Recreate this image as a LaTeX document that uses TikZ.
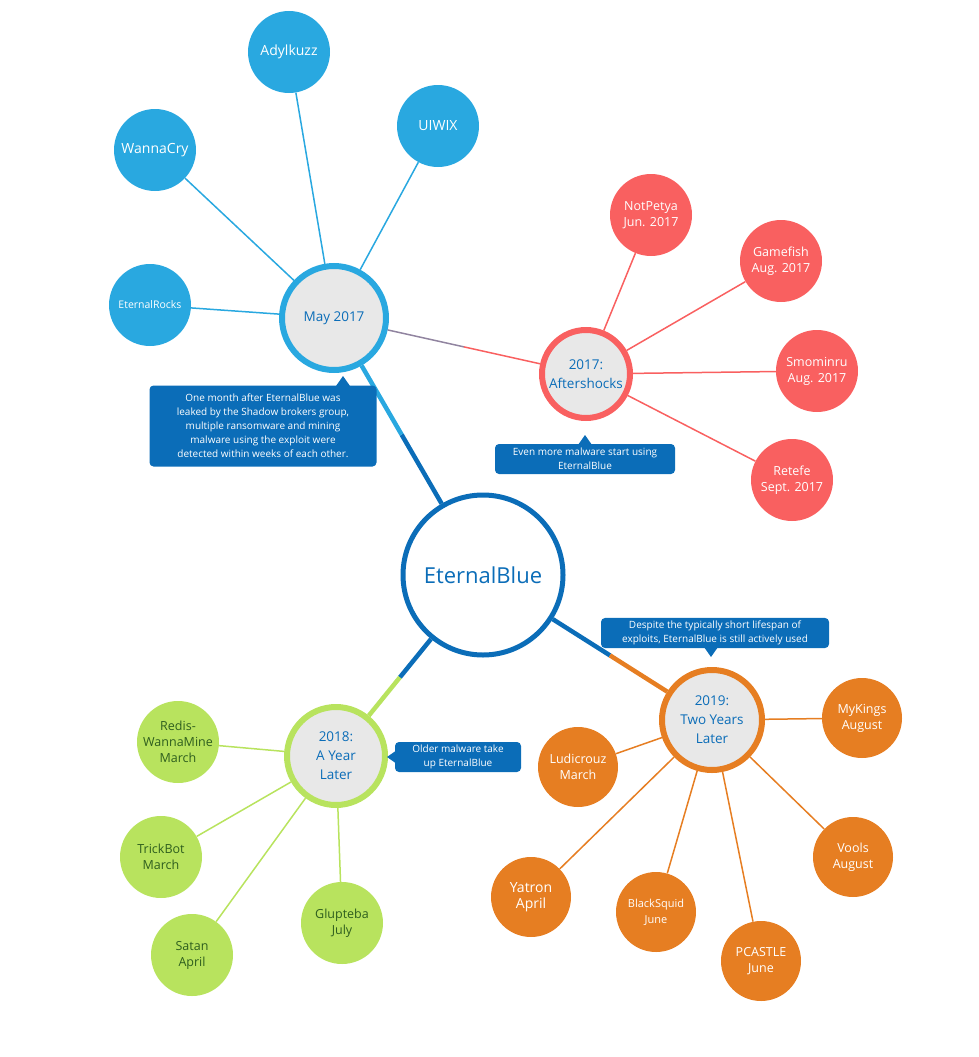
\documentclass[tikz,border=0pt]{standalone}
\usepackage{fontspec}
\setmainfont{Open Sans}
\begin{document}
\definecolor{cblue}{HTML}{29A8E0}
\definecolor{dblue}{HTML}{0B6DB8}
\definecolor{cred}{HTML}{F96060}
\definecolor{corange}{HTML}{E67E22}
\definecolor{cgreen}{HTML}{B8E35E}
\definecolor{tgreen}{HTML}{2E5E1E}
\definecolor{hubfill}{HTML}{E8E8E8}
\begin{tikzpicture}[x=1pt,y=-1pt,
  leaf/.style={circle,minimum size=#1,inner sep=0pt,align=center,font=\fontsize{12.5}{16}\selectfont,text=white},
  hub/.style={circle,fill=hubfill,line width=6pt,minimum size=#1,inner sep=0pt,align=center,font=\fontsize{13.5}{19}\selectfont},
  note/.style={fill=dblue,text=white,rounded corners=4pt,align=center,font=\fontsize{10}{14}\selectfont,inner xsep=6pt,inner ysep=3pt}]
\useasboundingbox (0,0) rectangle (978,1057);
% centre
\node[circle,draw=dblue,line width=5pt,fill=white,minimum size=160pt,text=dblue,font=\fontsize{22}{26}\selectfont] (eb) at (483,575) {EternalBlue};
% hubs
\node[hub=104pt,draw=cblue,text=dblue] (may) at (334,318) {May 2017};
\node[hub=88pt,draw=cred,text=dblue] (aft) at (586,374) {2017:\\Aftershocks};
\node[hub=100pt,draw=corange,text=dblue] (y19) at (712,720) {2019:\\Two Years\\Later};
\node[hub=98pt,draw=cgreen,text=dblue] (y18) at (336,756) {2018:\\A Year\\Later};
% hub connectors
\path (eb) -- coordinate[pos=0.5] (m1) (may);
\draw[dblue,line width=4.5pt] (eb) -- (m1);
\draw[cblue,line width=4.5pt] (m1) -- (may);
\path (eb) -- coordinate[pos=0.5] (m2) (y18);
\draw[dblue,line width=4.5pt] (eb) -- (m2);
\draw[cgreen,line width=4.5pt] (m2) -- (y18);
\path (eb) -- coordinate[pos=0.5] (m3) (y19);
\draw[dblue,line width=4.5pt] (eb) -- (m3);
\draw[corange,line width=4.5pt] (m3) -- (y19);
\path (may) -- coordinate[pos=0.5] (m4) (aft);
\draw[cblue!50!cred,line width=1.5pt] (may) -- (m4);
\draw[cred,line width=1.5pt] (m4) -- (aft);
% leaves May
\foreach \n/\x/\y/\t in {wc/155/150/WannaCry,ad/289/52/Adylkuzz,ui/438/126/UIWIX}{
  \node[leaf=82pt,fill=cblue,font=\fontsize{14}{16}\selectfont] (\n) at (\x,\y) {\t};
  \draw[cblue,line width=1.5pt] (may) -- (\n);}
\node[leaf=82pt,fill=cblue,font=\fontsize{10.5}{12}\selectfont] (er) at (150,305) {EternalRocks};
\draw[cblue,line width=1.5pt] (may) -- (er);
% leaves aftershocks
\foreach \n/\x/\y/\t in {np/651/215/{NotPetya\\Jun. 2017},gf/781/261/{Gamefish\\Aug. 2017},sm/817/371/{Smominru\\Aug. 2017},rt/792/480/{Retefe\\Sept. 2017}}{
  \node[leaf=82pt,fill=cred] (\n) at (\x,\y) {\t};
  \draw[cred,line width=1.5pt] (aft) -- (\n);}
% leaves 2019
\foreach \n/\x/\y/\f/\t in {mk/862/718/12.5/{MyKings\\August},lu/578/767/12.5/{Ludicrouz\\March},vo/853/857/12.5/{Vools\\August},ya/531/897/14/{Yatron\\April},bs/656/912/11/{BlackSquid\\June},pc/761/961/12.5/{PCASTLE\\June}}{
  \node[leaf=80pt,fill=corange,font=\fontsize{\f}{16}\selectfont] (\n) at (\x,\y) {\t};
  \draw[corange,line width=1.5pt] (y19) -- (\n);}
% leaves 2018
\foreach \n/\x/\y/\t in {rw/178/742/{Redis-\\WannaMine\\March},tb/161/857/{TrickBot\\March},sa/192/955/{Satan\\April},gl/342/923/{Glupteba\\July}}{
  \node[leaf=82pt,fill=cgreen,text=tgreen] (\n) at (\x,\y) {\t};
  \draw[cgreen,line width=1.5pt] (y18) -- (\n);}
% notes
\node[note,minimum width=227pt,minimum height=81pt] (n1) at (263,426) {One month after EternalBlue was\\leaked by the Shadow brokers group,\\multiple ransomware and mining\\malware using the exploit were\\detected within weeks of each other.};
\fill[dblue] (336,386) -- (343,376) -- (350,386) -- cycle;
\node[note,minimum width=180pt,minimum height=30pt] (n2) at (585,459) {Even more malware start using\\EternalBlue};
\fill[dblue] (578,445) -- (585,435) -- (592,445) -- cycle;
\node[note,minimum width=228pt,minimum height=30pt] (n3) at (715,633) {Despite the typically short lifespan of\\exploits, EternalBlue is still actively used};
\fill[dblue] (704,647) -- (711,657) -- (718,647) -- cycle;
\node[note,minimum width=126pt,minimum height=30pt] (n4) at (458,757) {Older malware take\\up EternalBlue};
\fill[dblue] (397,750) -- (387,757) -- (397,764) -- cycle;
\end{tikzpicture}
\end{document}
